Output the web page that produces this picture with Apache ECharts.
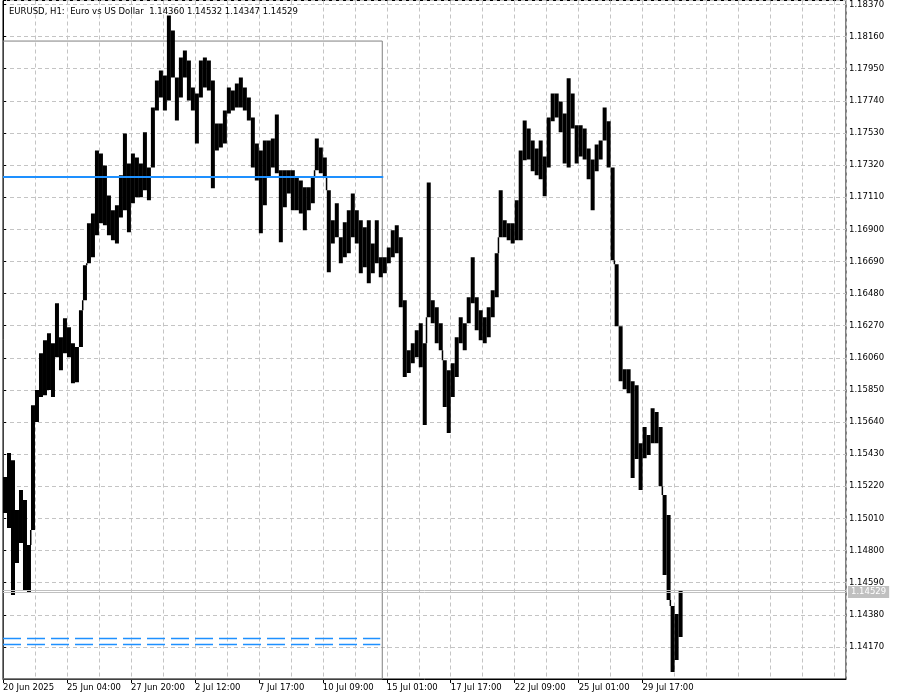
<!DOCTYPE html>
<html><head><meta charset="utf-8">
<script src="https://cdn.jsdelivr.net/npm/echarts@6/dist/echarts.min.js"></script>
<style>html,body{margin:0;padding:0;background:#fff}#c{width:900px;height:700px}</style>
</head><body><div id="c"></div>
<script>
// ---- data (EURUSD H1), one entry per 4-hour block ----
const titleText = 'EURUSD, H1:  Euro vs US Dollar  1.14360 1.14532 1.14347 1.14529';
const timeLabels = ['20 Jun 2025','25 Jun 04:00','27 Jun 20:00','2 Jul 12:00','7 Jul 17:00','10 Jul 09:00','15 Jul 01:00','17 Jul 17:00','22 Jul 09:00','25 Jul 01:00','29 Jul 17:00'];
const barsPerLabel = 64;
const hoursPerBlock = 4;
const priceTickStart = 1.1396, priceTickStep = 0.0021, priceTop = 1.18396;
const barsVisible = 843.5;
const barHigh = [1.15280,1.15437,1.15391,1.15065,1.15195,1.15130,1.14836,1.15750,1.15849,1.16090,
1.16175,1.16220,1.16155,1.16416,1.16195,1.16319,1.16260,1.16155,1.16130,1.16371,
1.16665,1.16939,1.17004,1.17416,1.17396,1.17318,1.17122,1.17024,1.17057,1.17253,
1.17527,1.17331,1.17396,1.17370,1.17331,1.17534,1.17305,1.17697,1.17873,1.17939,
1.17906,1.18298,1.18200,1.17893,1.18024,1.18069,1.18004,1.17827,1.17788,1.18004,
1.18024,1.18004,1.17873,1.17592,1.17592,1.17677,1.17827,1.17808,1.17854,1.17893,
1.17827,1.17762,1.17632,1.17461,1.17416,1.17481,1.17481,1.17494,1.17651,1.17286,
1.17286,1.17286,1.17286,1.17240,1.17220,1.17175,1.17175,1.17240,1.17494,1.17435,
1.17370,1.17155,1.16959,1.17070,1.16848,1.16946,1.17024,1.17135,1.17024,1.16959,
1.16913,1.16959,1.16808,1.16959,1.16717,1.16717,1.16782,1.16894,1.16926,1.16848,
1.16436,1.16110,1.16155,1.16240,1.16286,1.16155,1.17207,1.16436,1.16390,1.16286,
1.16044,1.15979,1.16025,1.16195,1.16325,1.16286,1.16456,1.16717,1.16456,1.16371,
1.16325,1.16390,1.16502,1.16743,1.17155,1.16959,1.16939,1.16939,1.17090,1.17416,
1.17612,1.17560,1.17481,1.17429,1.17481,1.17377,1.17632,1.17788,1.17788,1.17736,
1.17658,1.17887,1.17788,1.17580,1.17580,1.17560,1.17429,1.17357,1.17455,1.17481,
1.17697,1.17606,1.17305,1.16672,1.16266,1.15986,1.15986,1.15907,1.15881,1.15502,
1.15607,1.15555,1.15731,1.15705,1.15607,1.15163,1.15032,1.14437,1.14385,1.14542];
const barLow = [1.15045,1.14947,1.14509,1.14718,1.14849,1.14542,1.14522,1.14934,1.15640,1.15803,
1.15816,1.15849,1.15803,1.16064,1.15979,1.16090,1.16064,1.15894,1.15901,1.16130,
1.16436,1.16678,1.16717,1.16861,1.16939,1.16926,1.16861,1.16828,1.16808,1.16978,
1.17024,1.16881,1.17070,1.17109,1.17109,1.17155,1.17090,1.17305,1.17677,1.17762,
1.17677,1.17743,1.17893,1.17612,1.17762,1.17893,1.17743,1.17677,1.17461,1.17762,
1.17827,1.17808,1.17168,1.17416,1.17435,1.17461,1.17658,1.17677,1.17697,1.17697,
1.17677,1.17612,1.17305,1.17220,1.16874,1.17057,1.17240,1.17305,1.17266,1.16815,
1.17044,1.17135,1.17024,1.17024,1.17004,1.16894,1.17024,1.17070,1.17286,1.17266,
1.17240,1.16619,1.16808,1.16848,1.16678,1.16717,1.16743,1.16848,1.16808,1.16613,
1.16652,1.16547,1.16613,1.16678,1.16587,1.16613,1.16678,1.16717,1.16743,1.16390,
1.15934,1.15960,1.16025,1.16064,1.15999,1.15620,1.16325,1.16286,1.16155,1.16110,
1.15738,1.15568,1.15803,1.15934,1.16155,1.16110,1.16286,1.16416,1.16240,1.16175,
1.16155,1.16195,1.16325,1.16456,1.16848,1.16848,1.16828,1.16808,1.16828,1.16828,
1.17351,1.17357,1.17279,1.17253,1.17227,1.17116,1.17305,1.17606,1.17632,1.17534,
1.17331,1.17305,1.17560,1.17331,1.17377,1.17357,1.17227,1.17024,1.17279,1.17357,
1.17481,1.17305,1.16698,1.16266,1.15907,1.15855,1.15829,1.15274,1.15398,1.15195,
1.15404,1.15424,1.15502,1.15502,1.15221,1.14640,1.14477,1.14006,1.14085,1.14235];
const lastPrice = 1.14529, askPrice = 1.14542;
const blueLevel = 1.17243;
const blueDashedLevels = [1.14226, 1.14189];
const boxTop = 1.18131, boxRightBar = 379.5;
const blueLineEndBar = 380.5, dashedEndBar = 377.5;

const FONT = '"DejaVu Sans", Tahoma, sans-serif';
const FS = 8.5;
const labelPositions = timeLabels.map((_, k) => k * barsPerLabel);
const chart = echarts.init(document.getElementById('c'), null, {renderer: 'canvas'});

const blocks = barHigh.map((h, j) => [j * hoursPerBlock, barLow[j], h]);

const option = {
  animation: false,
  backgroundColor: '#fff',
  title: {text: titleText, left: 4, top: 2, textStyle: {fontSize: FS, fontWeight: 'normal', fontFamily: FONT, color: '#000'}},
  grid: {left: 2.5, right: 54, top: 0, bottom: 21, show: true, borderColor: '#000', borderWidth: 1, backgroundColor: '#fff'},
  xAxis: [
    {type: 'value', position: 'top', min: 0, max: barsVisible, interval: 32,
     axisLine: {show: false}, axisTick: {show: false}, axisLabel: {show: false},
     splitLine: {show: true, lineStyle: {color: '#c4c4c4', type: [4, 3], width: 1}}},
    {type: 'value', position: 'bottom', min: 0, max: barsVisible, interval: 64,
     axisLine: {show: true, lineStyle: {color: '#000', width: 1}},
     axisTick: {show: true, length: 4, lineStyle: {color: '#000'}, customValues: labelPositions},
     axisLabel: {show: true, customValues: labelPositions, align: 'left', margin: 4, color: '#000', fontSize: FS, fontFamily: FONT,
       formatter: v => { const k = Math.round(v / barsPerLabel); return (Math.abs(v - k * barsPerLabel) < 1e-6 && timeLabels[k]) ? timeLabels[k] : ''; }},
     splitLine: {show: false}}
  ],
  yAxis: {type: 'value', position: 'right', min: priceTickStart, max: priceTop, interval: priceTickStep, scale: true,
    axisLine: {show: true, lineStyle: {color: '#000', width: 1}},
    axisTick: {show: true, length: 3, lineStyle: {color: '#000'}},
    axisLabel: {show: true, margin: 3, color: '#000', fontSize: FS, fontFamily: FONT, showMinLabel: false,
      formatter: v => { const k = Math.round((v - priceTickStart) / priceTickStep); if (k <= 0 || Math.abs(v - (priceTickStart + k * priceTickStep)) > 1e-7) return ''; return (priceTickStart + k * priceTickStep).toFixed(5); }},
    splitLine: {show: true, lineStyle: {color: '#c4c4c4', type: [4, 3], width: 1}}},
  series: [
    {type: 'line', data: [], xAxisIndex: 0, silent: true,
     markArea: {silent: true, itemStyle: {color: 'rgba(0,0,0,0)', borderColor: '#808080', borderWidth: 1},
       data: [[{coord: [0, boxTop]}, {coord: [boxRightBar, priceTickStart]}]]},
     markLine: {silent: true, symbol: ['none', 'none'], animation: false, precision: 5,
       data: [
         {yAxis: askPrice, lineStyle: {color: '#c0c0c0', width: 1, type: 'solid'}, label: {show: false}},
         {yAxis: lastPrice, lineStyle: {color: '#c0c0c0', width: 1, type: 'solid'},
          label: {show: true, position: 'end', distance: 2, formatter: lastPrice.toFixed(5), backgroundColor: '#c0c0c0', color: '#fff', padding: [2, 3, 1, 3], fontSize: FS, fontFamily: FONT}},
         [{coord: [0, blueLevel], lineStyle: {color: '#1e90ff', width: 2, type: 'solid'}, label: {show: false}}, {coord: [blueLineEndBar, blueLevel]}],
         [{coord: [0, blueDashedLevels[0]], lineStyle: {color: '#1e90ff', width: 1.3, type: [18, 6]}, label: {show: false}}, {coord: [dashedEndBar, blueDashedLevels[0]]}],
         [{coord: [0, blueDashedLevels[1]], lineStyle: {color: '#1e90ff', width: 1.3, type: [18, 6]}, label: {show: false}}, {coord: [dashedEndBar, blueDashedLevels[1]]}]
       ]}},
    {type: 'custom', xAxisIndex: 0, data: blocks, silent: true, clip: true,
     renderItem: (params, api) => {
       const j = params.dataIndex;
       const x0 = api.value(0), lo = api.value(1), hi = api.value(2);
       const p1 = api.coord([x0, hi]);
       const p2 = api.coord([x0 + hoursPerBlock, lo]);
       const children = [{type: 'rect', shape: {x: p1[0], y: p1[1], width: p2[0] - p1[0], height: Math.max(1, p2[1] - p1[1])}, style: {fill: '#000'}}];
       if (j + 1 < barHigh.length) {
         const nh = barHigh[j + 1], nl = barLow[j + 1];
         let a = null, b = null;
         if (nh < lo) { a = lo; b = nh; } else if (nl > hi) { a = nl; b = hi; }
         if (a !== null) {
           const q1 = api.coord([x0 + hoursPerBlock, a]);
           const q2 = api.coord([x0 + hoursPerBlock, b]);
           children.push({type: 'rect', shape: {x: q1[0] - 1, y: q1[1], width: 1.5, height: q2[1] - q1[1]}, style: {fill: '#000'}});
         }
       }
       return {type: 'group', children};
     }}
  ]
};
chart.setOption(option);
</script></body></html>
